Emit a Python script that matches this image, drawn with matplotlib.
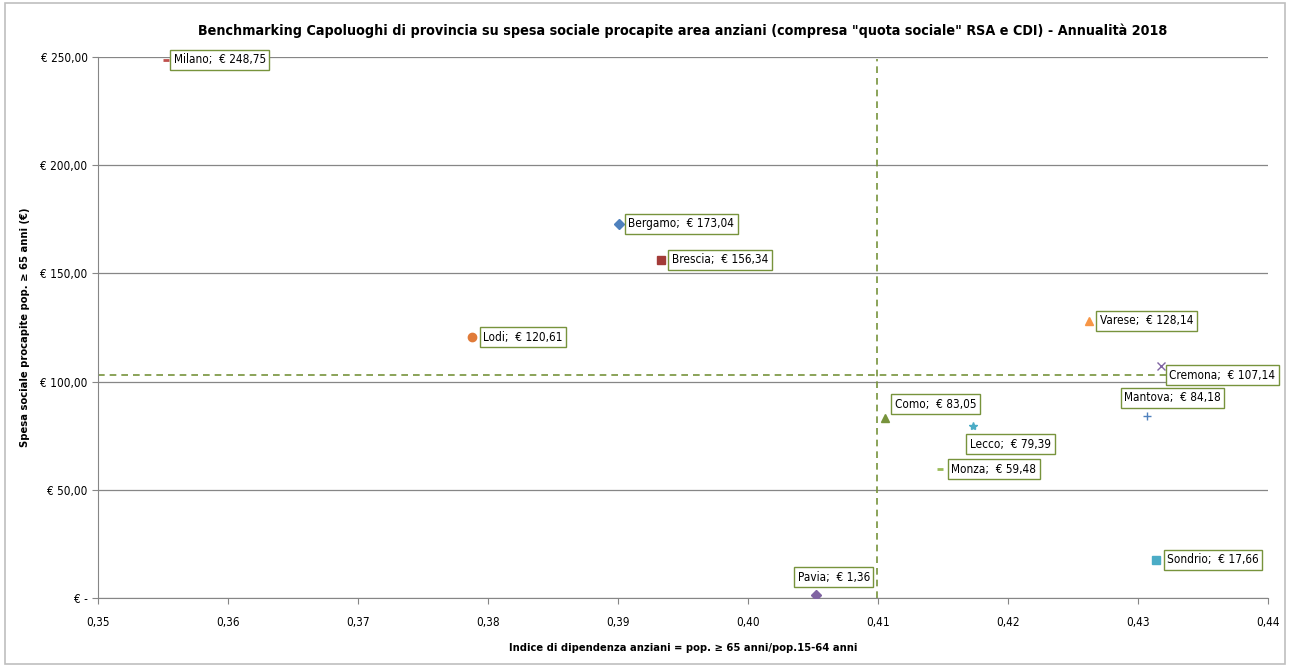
import numpy as np
import matplotlib.pyplot as plt
from matplotlib.patches import Rectangle
from matplotlib.ticker import FuncFormatter

plt.rcParams['font.family'] = ['DejaVu Sans']
plt.rcParams['font.stretch'] = 'condensed'

citta = ['Milano', 'Bergamo', 'Brescia', 'Lodi', 'Varese', 'Cremona',
         'Mantova', 'Como', 'Lecco', 'Monza', 'Pavia', 'Sondrio']
indice = [0.3552, 0.3901, 0.3933, 0.3788, 0.4262, 0.4318,
          0.4307, 0.4105, 0.4173, 0.4148, 0.4052, 0.4314]
spesa = [248.75, 173.04, 156.34, 120.61, 128.14, 107.14,
         84.18, 83.05, 79.39, 59.48, 1.36, 17.66]
media_x = 0.4099
media_y = 103.0

marker = ['_', 'D', 's', 'o', '^', 'x', '+', '^', '*', '_', 'D', 's']
colori = ['#C0504D', '#4F81BD', '#A33B38', '#E07B39', '#F79646', '#8064A2',
          '#4F81BD', '#77933C', '#4BACC6', '#9BBB59', '#8064A2', '#4BACC6']
# spostamento etichette in pixel
off = [(8, 0), (9, 0), (11, 0), (11, 0), (11, 0), (8, -9),
       (-23, 18), (10, 14), (-3, -18), (11, 0), (-18, 18), (11, 0)]

fig = plt.figure(figsize=(12.9, 6.67), dpi=100)
fig.patches.append(Rectangle((0.004, 0.004), 0.992, 0.992, transform=fig.transFigure,
                             fill=False, edgecolor='#BFBFBF', linewidth=1.2))
ax = fig.add_axes([0.076, 0.1034, 0.907, 0.8111])

for i in range(len(citta)):
    ms = 6
    if marker[i] == '_':
        ms = 5
    if marker[i] == 'D':
        ms = 5
    ax.plot(indice[i], spesa[i], linestyle='none', marker=marker[i], color=colori[i],
            markersize=ms, markeredgewidth=2 if marker[i] == '_' else 1, zorder=3)
    ax.annotate('%s;  € %s' % (citta[i], ('%.2f' % spesa[i]).replace('.', ',')),
                (indice[i], spesa[i]), xytext=off[i], textcoords='offset pixels',
                ha='left', va='center', fontsize=8.5, zorder=4,
                bbox=dict(boxstyle='square,pad=0.3', fc='white', ec='#77933C', lw=1))

ax.plot([media_x, media_x], [0, 249], color='#77933C', linestyle=(0, (4, 3)),
        linewidth=1.2, zorder=2)
ax.plot([0.35, 0.44], [media_y, media_y], color='#77933C', linestyle=(0, (4, 3)),
        linewidth=1.2, zorder=2, clip_on=False)

ax.set_xlim(0.35, 0.44)
ax.set_ylim(0, 250)
ax.set_xticks(np.arange(0.35, 0.4401, 0.01))
ax.set_yticks(np.arange(0, 251, 50))
ax.xaxis.set_major_formatter(FuncFormatter(lambda v, p: ('%.2f' % v).replace('.', ',')))
ax.yaxis.set_major_formatter(FuncFormatter(
    lambda v, p: '€ -' if v == 0 else '€ ' + ('%.2f' % v).replace('.', ',')))
ax.tick_params(labelsize=8.5, color='#868686', length=4)
ax.tick_params(axis='x', pad=9)
ax.grid(axis='y', color='#868686', linewidth=0.9)
ax.set_axisbelow(True)
for s in ['top', 'right']:
    ax.spines[s].set_visible(False)
ax.spines['left'].set_color('#868686')
ax.spines['bottom'].set_color('#868686')

ax.set_title('Benchmarking Capoluoghi di provincia su spesa sociale procapite area anziani '
             '(compresa "quota sociale" RSA e CDI) - Annualità 2018',
             fontsize=10.3, fontweight='bold', pad=16)
ax.set_xlabel('Indice di dipendenza anziani = pop. ≥ 65 anni/pop.15-64 anni',
              fontsize=8, fontweight='bold', labelpad=10)
ax.set_ylabel('Spesa sociale procapite pop. ≥ 65 anni (€)',
              fontsize=8, fontweight='bold')
ax.yaxis.set_label_coords(-0.058, 0.5)

fig.savefig('out.png', dpi=100)
